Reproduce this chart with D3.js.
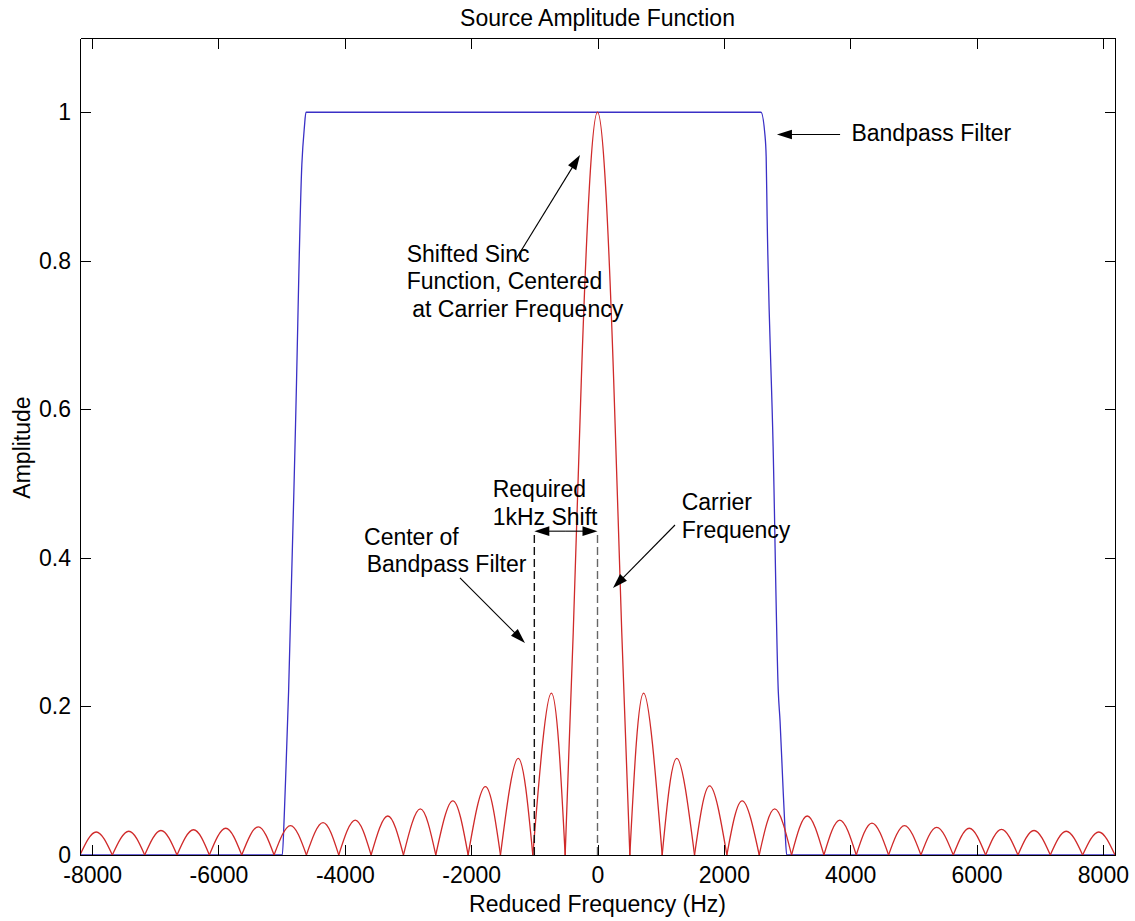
<!DOCTYPE html>
<html>
<head>
<meta charset="utf-8">
<script src="https://cdn.jsdelivr.net/npm/d3@7"></script>
<style>
  body { margin: 0; background: #fff; }
  svg { display: block; font-family: "Liberation Sans", Arial, sans-serif; }
</style>
</head>
<body>
<figure id="amplitude" style="margin:0"></figure>
<script>
// Axis limits and ticks
const xLimits = [-8192, 8192];
const yLimits = [0, 1.1];
const xTicks = [-8000, -6000, -4000, -2000, 0, 2000, 4000, 6000, 8000];
const yTicks = [0, 0.2, 0.4, 0.6, 0.8, 1];

// Bandpass filter (blue)
const filterHz = [-8192, -4990, -4960, -4930, -4890, -4780, -4680, -4640, -4615,
  2588, 2650, 2670, 2685, 2780, 2862, 2890, 2932, 2968, 2995, 8192];
const filterAmp = [0, 0, 0.05, 0.12, 0.22, 0.58, 0.93, 0.98, 1,
  1, 0.97, 0.94, 0.86, 0.55, 0.22, 0.18, 0.10, 0.035, 0, 0];

// Shifted sinc (red): nulls, one peak per lobe, main lobe detail
const nullHz = [-8192, -7680, -7168, -6656, -6144, -5632, -5120, -4608, -4096, -3584,
  -3072, -2560, -2048, -1536, -1024, -512, 512, 1024, 1536, 2048, 2560, 3072, 3584,
  4096, 4608, 5120, 5632, 6144, 6656, 7168, 7680, 8192];
const peakHz = [-7935, -7420, -6910, -6395, -5885, -5370, -4860, -4345, -3835, -3320,
  -2805, -2290, -1775, -1255, -730, 0, 730, 1255, 1775, 2290, 2805, 3320, 3835, 4345,
  4860, 5370, 5885, 6395, 6910, 7420, 7935];
const peakAmp = [0.031, 0.032, 0.033, 0.034, 0.036, 0.038, 0.0395, 0.0435, 0.047, 0.0525,
  0.062, 0.073, 0.092, 0.130, 0.218, 1, 0.218, 0.130, 0.093, 0.073, 0.062, 0.0525, 0.047,
  0.043, 0.0395, 0.0373, 0.036, 0.0345, 0.033, 0.032, 0.031];
const mainLobeHz = [-512, -384, -256, -128, 0, 128, 256, 384, 512];
const mainLobeAmp = [0, 0.30, 0.64, 0.90, 1, 0.90, 0.64, 0.30, 0];

// Markers: center of filter and carrier
const filterCenterHz = -1000;
const carrierHz = 0;
const markerTop = 0.436;

const width = 1135, height = 921;
const margin = { top: 38, right: 20, bottom: 66, left: 80 };
const w = width - margin.left - margin.right;
const h = height - margin.top - margin.bottom;
const tick = 10.5;

const svg = d3.select("figure#amplitude")
  .append("svg")
  .attr("width", width)
  .attr("height", height);

const g = svg.append("g")
  .attr("transform", "translate(" + margin.left + "," + margin.top + ")");

const x = d3.scaleLinear().domain(xLimits).range([0, w]);
const y = d3.scaleLinear().domain(yLimits).range([h, 0]);

g.append("clipPath").attr("id", "plot-clip")
  .append("rect").attr("width", w).attr("height", h);

const line = d3.line().x(d => x(d[0])).y(d => y(d[1]));

// Bandpass filter
g.append("path")
  .datum(filterHz.map((f, i) => [f, filterAmp[i]]))
  .attr("clip-path", "url(#plot-clip)")
  .attr("fill", "none")
  .attr("stroke", "#3a30c6")
  .attr("stroke-width", 1.3)
  .attr("d", line.curve(d3.curveMonotoneX));

// Sinc lobes, one path per lobe so the nulls stay sharp
const lobes = peakHz.map((p, i) => p === 0
  ? mainLobeHz.map((f, j) => [f, mainLobeAmp[j]])
  : [[nullHz[i], 0], [p, peakAmp[i]], [nullHz[i + 1], 0]]);

g.append("g").attr("clip-path", "url(#plot-clip)")
  .selectAll("path")
  .data(lobes)
  .enter()
  .append("path")
  .attr("fill", "none")
  .attr("stroke", "#d02a2a")
  .attr("stroke-width", 1.3)
  .attr("d", d3.line().x(d => x(d[0])).y(d => y(d[1])).curve(d3.curveNatural));

// Dashed markers
g.selectAll("line.marker")
  .data([filterCenterHz, carrierHz])
  .enter()
  .append("line")
  .attr("class", "marker")
  .attr("x1", d => x(d)).attr("x2", d => x(d))
  .attr("y1", y(0)).attr("y2", y(markerTop))
  .attr("stroke", (d, i) => i === 0 ? "#111" : "#666")
  .attr("stroke-width", 1.4)
  .attr("stroke-dasharray", "8,4");

// Axes (inward ticks on all four sides)
function styleAxis(sel) {
  sel.attr("font-family", null).attr("font-size", null)
    .attr("shape-rendering", "crispEdges");
  sel.selectAll("text").attr("font-size", 23).attr("fill", "#000");
  sel.selectAll("line, path").attr("stroke", "#000");
}

g.append("g").attr("class", "xAxis")
  .attr("transform", "translate(0," + h + ")")
  .call(d3.axisBottom(x).tickValues(xTicks).tickSizeInner(-tick).tickSizeOuter(0)
    .tickPadding(12).tickFormat(d => String(d)))
  .call(styleAxis);

g.append("g").attr("class", "xAxisTop")
  .call(d3.axisTop(x).tickValues(xTicks).tickSizeInner(-tick).tickSizeOuter(0).tickFormat(""))
  .call(styleAxis);

g.append("g").attr("class", "yAxis")
  .call(d3.axisLeft(y).tickValues(yTicks).tickSizeInner(-tick).tickSizeOuter(0)
    .tickPadding(9).tickFormat(d => String(d)))
  .call(styleAxis);

g.append("g").attr("class", "yAxisRight")
  .attr("transform", "translate(" + w + ",0)")
  .call(d3.axisRight(y).tickValues(yTicks).tickSizeInner(-tick).tickSizeOuter(0).tickFormat(""))
  .call(styleAxis);

// Titles
svg.append("text")
  .attr("x", margin.left + w / 2).attr("y", 26)
  .attr("text-anchor", "middle").attr("font-size", 23)
  .text("Source Amplitude Function");

svg.append("text")
  .attr("x", margin.left + w / 2).attr("y", 912)
  .attr("text-anchor", "middle").attr("font-size", 23)
  .text("Reduced Frequency (Hz)");

svg.append("text")
  .attr("transform", "translate(30," + (margin.top + h / 2 + 1) + ") rotate(-90)")
  .attr("text-anchor", "middle").attr("font-size", 23)
  .text("Amplitude");

// Annotations, placed in data units
const notes = [
  { at: [4020, 0.961], lines: ["Bandpass Filter"] },
  { at: [-3020, 0.799], lines: ["Shifted Sinc", "Function, Centered"] },
  { at: [-2932, 0.725], lines: ["at Carrier Frequency"] },
  { at: [-1659, 0.4816], lines: ["Required", "1kHz Shift"] },
  { at: [-3696, 0.4174], lines: ["Center of"] },
  { at: [-3654, 0.3815], lines: ["Bandpass Filter"] },
  { at: [1333, 0.4645], lines: ["Carrier", "Frequency"] }
];

const arrows = [
  { from: [3840, 0.970], to: [2840, 0.970] },
  { from: [-1290, 0.8024], to: [-277, 0.9425] },
  { from: [-2177, 0.373], to: [-1148, 0.2854] },
  { from: [1227, 0.4443], to: [245, 0.3595] },
  { from: [-500, markerTop], to: [carrierHz, markerTop] },
  { from: [-500, markerTop], to: [filterCenterHz, markerTop] }
];

const noteG = g.append("g").attr("font-size", 23);
notes.forEach(n => {
  const t = noteG.append("text").attr("x", x(n.at[0])).attr("y", y(n.at[1]));
  n.lines.forEach((s, i) => {
    t.append("tspan").attr("x", x(n.at[0])).attr("dy", i === 0 ? 0 : 27.6).text(s);
  });
});

const arrowG = g.append("g");
arrows.forEach(a => {
  const x0 = x(a.from[0]), y0 = y(a.from[1]);
  const x1 = x(a.to[0]), y1 = y(a.to[1]);
  const len = Math.hypot(x1 - x0, y1 - y0);
  const ux = (x1 - x0) / len, uy = (y1 - y0) / len;
  const hl = 15, hw = 4.8;
  arrowG.append("line")
    .attr("x1", x0).attr("y1", y0)
    .attr("x2", x1 - ux * hl * 0.6).attr("y2", y1 - uy * hl * 0.6)
    .attr("stroke", "#000").attr("stroke-width", 1.1);
  const bx = x1 - ux * hl, by = y1 - uy * hl;
  arrowG.append("polygon")
    .attr("points", [[x1, y1], [bx - uy * hw, by + ux * hw], [bx + uy * hw, by - ux * hw]].join(" "))
    .attr("fill", "#000");
});
</script>
</body>
</html>
